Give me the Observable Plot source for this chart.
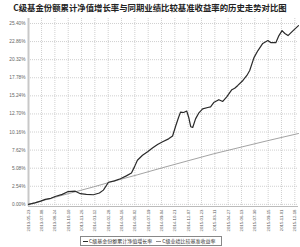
<!DOCTYPE html>
<html>
<head>
<meta charset="utf-8">
<script src="https://cdn.jsdelivr.net/npm/d3@7"></script>
<script src="https://cdn.jsdelivr.net/npm/@observablehq/plot@0.6"></script>
<style>
  html, body { margin: 0; padding: 0; background: #fff; }
  #wrap { position: relative; width: 300px; height: 247px; overflow: hidden; }
  #title { position: absolute; left: 0; top: 2px; width: 300px; text-align: center;
    font-family: "Noto Sans CJK SC", sans-serif; font-weight: bold; font-size: 8.4px; line-height: 10px; color: #222; }
  #chart { position: absolute; left: 0; top: 14px; }
  #legend { position: absolute; left: 80px; top: 236px; width: 140px; height: 8px; border: 1px solid #888;
    font-family: "Noto Sans CJK SC", sans-serif; font-size: 5px; line-height: 8px; color: #333; white-space: nowrap; }
  #legend span.ln { display: inline-block; width: 5px; height: 0; vertical-align: middle; margin: 0 1px 0 2px; }
</style>
</head>
<body>
<div id="wrap">
  <div id="title"></div>
  <div id="chart"></div>
  <div id="legend"></div>
</div>
<script>
const titleText = "C级基金份额累计净值增长率与同期业绩比较基准收益率的历史走势对比图";
const seriesNames = ["C级基金份额累计净值增长率", "C级业绩比较基准收益率"];

const xTickLabels = ["2013-05-23","2013-07-08","2013-08-24","2013-10-10","2013-11-26","2014-01-12","2014-02-28",
  "2014-04-16","2014-06-02","2014-07-19","2014-09-04","2014-10-21","2014-12-07","2015-01-23","2015-03-11",
  "2015-04-27","2015-06-13","2015-07-30","2015-09-15","2015-11-01","2015-12-18"];
const yTickValues = [0, 2.54, 5.08, 7.62, 10.16, 12.70, 15.24, 17.78, 20.32, 22.86, 25.40];

const fundDates = ["2013-05-23","2013-06-15","2013-07-05","2013-07-21","2013-08-10","2013-08-25","2013-09-19","2013-10-10",
  "2013-11-04","2013-11-22","2013-12-13","2014-01-07","2014-01-28","2014-02-11","2014-03-01","2014-03-22","2014-04-12",
  "2014-05-03","2014-05-21","2014-06-01","2014-06-11","2014-06-29","2014-07-17","2014-08-03","2014-08-21","2014-09-08",
  "2014-09-29","2014-10-13","2014-10-24","2014-11-03","2014-11-10","2014-11-21","2014-12-02","2014-12-09","2014-12-16",
  "2014-12-23","2015-01-02","2015-01-13","2015-01-27","2015-02-14","2015-02-24","2015-03-07","2015-03-25","2015-04-08",
  "2015-04-22","2015-05-10","2015-05-20","2015-05-31","2015-06-18","2015-07-02","2015-07-12","2015-07-27","2015-08-10",
  "2015-08-27","2015-09-14","2015-09-25","2015-10-12","2015-10-23","2015-11-03","2015-11-13","2015-11-24","2015-12-12",
  "2015-12-31"];
const fundValues = [0.00,0.20,0.45,0.70,0.85,1.10,1.40,1.80,
  1.85,1.50,1.40,1.35,1.60,2.00,3.10,3.30,3.60,
  4.00,4.40,5.30,6.20,6.90,7.40,7.90,8.40,8.80,
  9.20,9.60,11.00,12.20,12.95,12.90,13.10,12.20,10.90,
  10.80,12.00,12.80,13.40,13.60,13.70,14.30,14.70,14.45,
  15.10,16.10,16.30,16.70,17.40,18.10,18.80,20.60,21.60,
  22.60,23.00,22.70,22.70,23.70,24.40,24.00,23.70,24.40,
  25.10];

const benchDates = ["2013-05-23","2013-07-21","2013-10-10","2014-01-07","2014-03-01","2014-06-11","2014-09-08",
  "2014-12-09","2015-03-07","2015-06-18","2015-09-14","2015-12-31"];
const benchValues = [0.00,0.62,1.50,2.45,3.05,4.15,5.15,6.15,7.10,8.10,8.95,9.95];

const parse = d3.utcParse("%Y-%m-%d");
const fmt = d3.utcFormat("%Y-%m-%d");
const fund = fundDates.map((d, i) => ({date: parse(d), value: fundValues[i]}));
const bench = benchDates.map((d, i) => ({date: parse(d), value: benchValues[i]}));
const xTicks = xTickLabels.map(parse);

const fundColor = "#2a2a2a";
const benchColor = "#8c8c8c";

const chart = Plot.plot({
  width: 300,
  height: 220,
  marginLeft: 28,
  marginRight: 2,
  marginTop: 4,
  marginBottom: 28,
  style: {fontFamily: "Liberation Sans, Arial, sans-serif", background: "transparent"},
  x: {type: "utc", domain: [parse("2013-05-23"), parse("2015-12-31")], label: null},
  y: {domain: [-0.3, 26.1], label: null},
  marks: [
    Plot.gridX(xTicks, {stroke: "#c4c4c4", strokeOpacity: 1, strokeDasharray: "1,1", strokeWidth: 0.8}),
    Plot.gridY(yTickValues, {stroke: "#c4c4c4", strokeOpacity: 1, strokeDasharray: "1,1", strokeWidth: 0.8}),
    Plot.axisY(yTickValues, {tickSize: 0, tickPadding: 3, fontSize: 4.8, fill: "#666", label: null,
      tickFormat: d => d.toFixed(2) + "%"}),
    Plot.axisX(xTicks, {tickSize: 0, tickPadding: 3, tickRotate: -90, fontSize: 4.3, fill: "#555", label: null,
      tickFormat: d => fmt(d)}),
    Plot.ruleY([-0.3], {stroke: "#bbb", strokeWidth: 1}),
    Plot.ruleX([parse("2013-05-23")], {stroke: "#c8c8c8", strokeWidth: 2}),
    Plot.line(bench, {x: "date", y: "value", stroke: benchColor, strokeWidth: 0.8}),
    Plot.line(fund, {x: "date", y: "value", stroke: fundColor, strokeWidth: 1.2})
  ]
});
document.getElementById("chart").appendChild(chart);
document.getElementById("title").textContent = titleText;
const legend = document.getElementById("legend");
legend.innerHTML =
  `<span class="ln" style="border-top:1px solid ${fundColor}"></span>${seriesNames[0]}` +
  `<span class="ln" style="border-top:1px solid ${benchColor};margin-left:4px"></span>${seriesNames[1]}`;
</script>
</body>
</html>
